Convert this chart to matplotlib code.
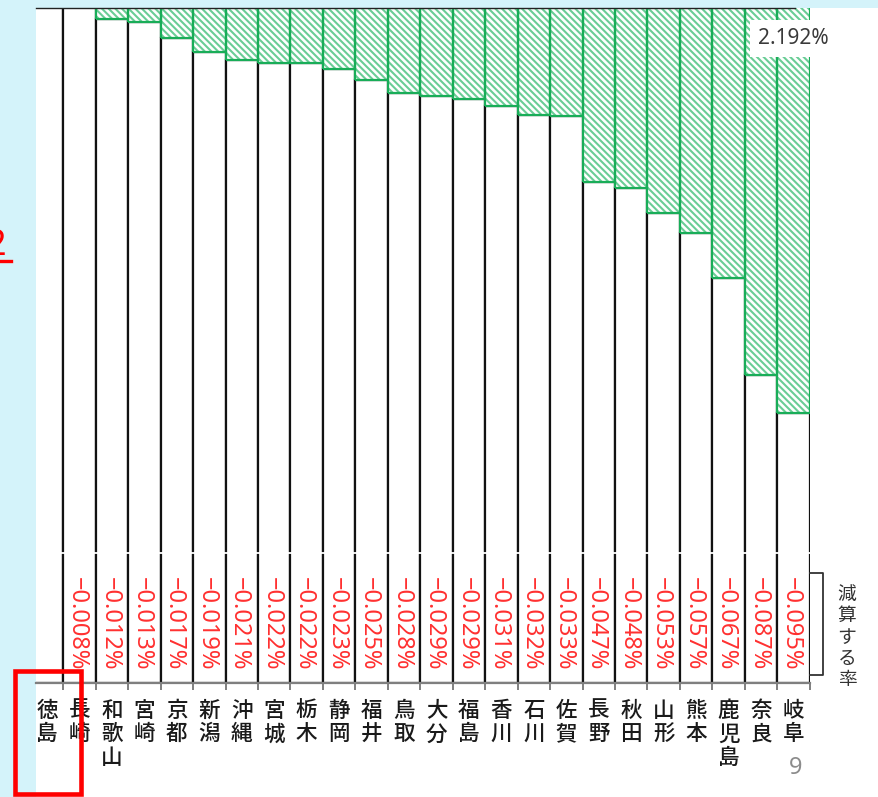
import matplotlib
matplotlib.use("Agg")
import matplotlib.pyplot as plt
from matplotlib.patches import Rectangle
from matplotlib.lines import Line2D

# ---------------- data ----------------
prefectures = ["徳島", "長崎", "和歌山", "宮崎", "京都", "新潟", "沖縄", "宮城", "栃木",
               "静岡", "福井", "鳥取", "大分", "福島", "香川", "石川", "佐賀", "長野",
               "秋田", "山形", "熊本", "鹿児島", "奈良", "岐阜"]
# height of the white (base) part of each bar, in the chart's own (arbitrary) units
base_values = [100.8, 100.4, 98.4, 98.0, 95.5, 93.5, 92.3, 91.9, 91.8,
               90.9, 89.3, 87.4, 86.9, 86.5, 85.5, 84.2, 84.0, 74.2,
               73.3, 69.7, 66.7, 60.0, 45.6, 40.0]
# top of the hatched (added) part – runs past the visible top of the chart
total_values = [106.0] * 24
# rates shown in the lower band (none shown for 徳島)
reduction_rates = [None, "−0.008%", "−0.012%", "−0.013%", "−0.017%", "−0.019%",
                   "−0.021%", "−0.022%", "−0.022%", "−0.023%", "−0.025%",
                   "−0.028%", "−0.029%", "−0.029%", "−0.031%", "−0.032%",
                   "−0.033%", "−0.047%", "−0.048%", "−0.053%", "−0.057%",
                   "−0.067%", "−0.087%", "−0.095%"]
max_label = "2.192%"
bracket_label = "減算する率"
page_number = "9"

# ---------------- style ----------------
W, H = 879, 797
BG = "#d4f3fa"
GREEN_EDGE = "#19ad58"
GREEN_HATCH = "#6acd96"
RED = "#ff3030"
plt.rcParams["hatch.linewidth"] = 1.5
plt.rcParams["font.family"] = ["Noto Sans CJK JP", "DejaVu Sans"]


def fx(px):
    return px / W


def fy(py):
    return 1 - py / H


fig = plt.figure(figsize=(W / 100, H / 100), dpi=100)
fig.patch.set_facecolor(BG)

# white slide panel
fig.add_artist(Rectangle((fx(36), 0), 1 - fx(36), fy(8), transform=fig.transFigure,
                         facecolor="white", edgecolor="none", zorder=0))
# top border line
fig.add_artist(Line2D([fx(36), fx(795)], [fy(8), fy(8)], transform=fig.transFigure,
                      color="#222222", lw=1.0, zorder=1))

ax = fig.add_axes([fx(36), fy(683), fx(809.7) - fx(36), (683 - 8) / H])
ax.set_facecolor("none")
ax.set_xlim(-0.341, 23.5)
ax.set_ylim(0, 100)

x = list(range(len(prefectures)))
hatch_heights = [t - b for t, b in zip(total_values, base_values)]

ax.bar(x, base_values, width=1.0, facecolor="white", edgecolor="#111111",
       linewidth=1.6, zorder=2)
ax.bar(x, hatch_heights, bottom=base_values, width=1.0, facecolor="white",
       edgecolor=GREEN_HATCH, hatch="\\\\\\\\\\", linewidth=0, zorder=3)
ax.bar(x, hatch_heights, bottom=base_values, width=1.0, fill=False,
       edgecolor=GREEN_EDGE, linewidth=1.6, zorder=4)

# axis break between the bars and the rate band
ax.axhline((683 - 553) / 6.75, color="white", lw=1.3, zorder=5)

# reduction rates, vertical red text
for xi, r in zip(x, reduction_rates):
    if r is None:
        continue
    ax.text(xi - 0.08, (683 - 577) / 6.75, r, rotation=-90, ha="center", va="top",
            color=RED, fontsize=17, family=["Noto Sans", "DejaVu Sans"], zorder=6)

# x axis
for s in ["top", "left", "right"]:
    ax.spines[s].set_visible(False)
ax.spines["bottom"].set_color("#7f7f7f")
ax.spines["bottom"].set_linewidth(1.6)
ax.set_yticks([])
ax.set_xticks(x)
ax.set_xticklabels(["\n".join(p) for p in prefectures])
ax.set_xticks([i - 0.5 for i in range(1, len(prefectures) + 1)], minor=True)
ax.tick_params(axis="x", which="major", length=0, pad=12, labelsize=15.5,
               labelcolor="#1a1a1a")
ax.tick_params(axis="x", which="minor", length=5, width=1.4, color="#7f7f7f")
for t in ax.get_xticklabels():
    t.set_linespacing(1.1)
    t.set_verticalalignment("top")
    t.set_fontweight("medium")

# value box for the largest bar
fig.add_artist(Rectangle((fx(750), fy(57)), fx(838) - fx(750), (57 - 20) / H,
                         transform=fig.transFigure, facecolor="white",
                         edgecolor="none", zorder=10))
fig.text(fx(793), fy(39), max_label, ha="center", va="center", fontsize=15,
         color="#3a3a3a", family=["Noto Sans", "DejaVu Sans"], zorder=11)

# bracket + label on the right
fig.add_artist(Line2D([fx(810), fx(823), fx(823), fx(810)],
                      [fy(573), fy(573), fy(675), fy(675)],
                      transform=fig.transFigure, color="#333333", lw=1.3))
fig.text(fx(847), fy(584), "\n".join(bracket_label), ha="center", va="top",
         fontsize=13.5, color="#333333", linespacing=1.02)

# page number
fig.text(fx(796), fy(768), page_number, ha="center", va="center", fontsize=17,
         color="#8c8c8c", family=["Noto Sans", "DejaVu Sans"])

# red highlight box and clipped red heading at the left edge
fig.add_artist(Rectangle((fx(15), fy(794)), fx(81.5) - fx(15), (794 - 671) / H,
                         transform=fig.transFigure, facecolor="none",
                         edgecolor="#ff0000", lw=3.3, zorder=12))
fig.text(fx(6), fy(255), "2", ha="right", va="baseline", fontsize=26,
         color="#ff0000", fontweight="bold", family=["Noto Sans", "DejaVu Sans"])
fig.add_artist(Line2D([0, fx(11)], [fy(260.5), fy(260.5)],
                      transform=fig.transFigure, color="#ff0000", lw=2.4))

fig.savefig("out.png", dpi=100, facecolor=fig.get_facecolor())
